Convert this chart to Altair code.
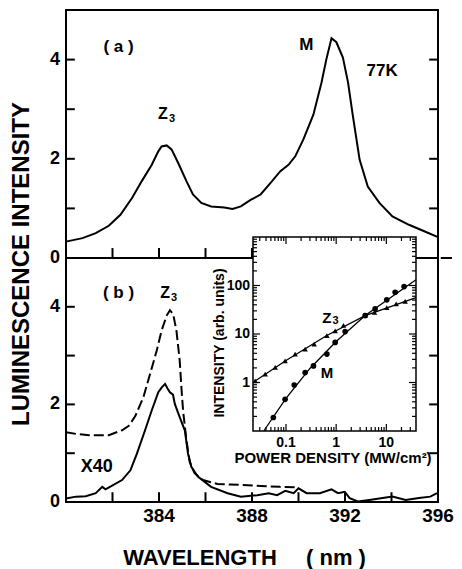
import altair as alt
import pandas as pd

# ---------------- data ----------------
# (a) 77K luminescence spectrum
a_wl = [380.0, 380.71, 381.28, 381.84, 382.34, 382.84, 383.26, 383.69, 383.97, 384.11, 384.33, 384.54,
        384.82, 385.18, 385.46, 385.82, 386.24, 386.81, 387.16, 387.52, 387.94, 388.37, 388.79, 389.22,
        389.57, 389.86, 390.21, 390.64, 390.99, 391.2, 391.42, 391.63, 391.91, 392.13, 392.34, 392.63,
        392.98, 393.48, 394.04, 394.75, 395.46, 396.0]
a_int = [0.33, 0.40, 0.50, 0.65, 0.87, 1.21, 1.55, 1.88, 2.15, 2.25, 2.27, 2.19,
         1.92, 1.55, 1.28, 1.11, 1.04, 1.02, 0.99, 1.04, 1.17, 1.28, 1.51, 1.75,
         1.88, 2.05, 2.39, 2.89, 3.54, 4.01, 4.43, 4.35, 4.04, 3.54, 2.86, 1.98,
         1.44, 1.11, 0.84, 0.67, 0.53, 0.42]

# (b) solid spectrum (x40)
b_wl = [380.0, 380.43, 380.85, 381.28, 381.56, 381.7, 381.85, 382.41, 382.77, 383.05, 383.4, 383.69,
        383.97, 384.12, 384.26, 384.36, 384.47, 384.6, 384.68, 384.89, 385.11, 385.25, 385.39, 385.67,
        386.24, 386.95, 387.52, 388.23, 388.72, 389.08, 389.43, 389.79, 390.0, 390.35, 390.92, 391.42,
        391.7, 391.99, 392.2, 392.55, 393.05, 393.62, 394.04, 394.61, 395.18, 395.67, 395.96]
b_int = [0.07, 0.11, 0.12, 0.18, 0.31, 0.26, 0.30, 0.45, 0.65, 0.99, 1.47, 1.88,
         2.25, 2.35, 2.42, 2.33, 2.25, 2.20, 2.01, 1.74, 1.47, 0.99, 0.72, 0.52,
         0.31, 0.18, 0.11, 0.14, 0.18, 0.14, 0.23, 0.18, 0.28, 0.18, 0.18, 0.26,
         0.18, 0.21, 0.08, 0.01, 0.04, 0.08, 0.11, 0.04, 0.08, 0.11, 0.18]

# (b) dashed spectrum
d_wl = [380.0, 380.5, 381.0, 381.84, 382.41, 382.7, 382.98, 383.33, 383.62, 383.9, 384.11, 384.33,
        384.47, 384.61, 384.75, 384.89, 384.97, 385.04, 385.18, 385.32, 385.53, 385.89, 386.52, 387.52,
        388.37, 389.2, 390.0]
d_int = [1.43, 1.39, 1.37, 1.37, 1.47, 1.56, 1.76, 2.15, 2.63, 3.10, 3.51, 3.82,
         3.93, 3.85, 3.51, 2.90, 2.30, 1.85, 1.27, 0.82, 0.59, 0.45, 0.37, 0.35,
         0.33, 0.31, 0.30]

# inset: intensity vs power density
z3_power = [0.0243, 0.0385, 0.061, 0.096, 0.152, 0.241, 0.365, 0.653, 0.955, 1.4, 3.78, 5.8, 10.2, 15.7, 23.7]
z3_int = [1.08, 1.49, 2.04, 2.8, 3.85, 4.9, 6.2, 9.3, 11.6, 15.0, 24, 28, 35, 41.9, 47]
m_power = [0.056, 0.096, 0.146, 0.241, 0.353, 0.653, 0.955, 1.51, 3.78, 5.98, 10.2, 15, 22.6]
m_int = [0.19, 0.45, 0.89, 1.6, 2.2, 3.85, 6.7, 11.2, 24, 33, 50.6, 72.6, 95]
z3_fit_power = [0.022, 0.1, 0.65, 3.78, 39]
z3_fit_int = [1.0, 2.85, 9.3, 24, 56]
m_fit_power = [0.036, 0.1, 0.3, 1.0, 3.78, 39]
m_fit_int = [0.1, 0.47, 1.95, 7.0, 24, 131]

# axis tick positions and labels
main_y_ticks = [1, 2, 3, 4]
main_x_ticks = [382, 384, 386, 388, 390, 392, 394]
main_y_labels = [0, 2, 4]
main_x_labels = [384, 388, 392, 396]
inset_x_labels = [0.1, 1, 10]
inset_x_label_text = ["0.1", "1", "10"]
inset_y_labels = [1, 10, 100]
inset_y_label_text = ["1", "10", "100"]

FONT = "Liberation Sans"
W, H = 372, 492

xa = alt.Scale(domain=[380, 396], range=[0, W], nice=False, zero=False)
ya = alt.Scale(domain=[0, 5], range=[248, 0], nice=False, zero=False)
yb = alt.Scale(domain=[0, 5], range=[H, 248], nice=False, zero=False)
xi = alt.Scale(type="log", domain=[0.022, 39], range=[187, 350], nice=False)
yi = alt.Scale(type="log", domain=[0.1, 1000], range=[421, 227], nice=False)


def tick_table(xmin, xmax, ymin, xt, yt, dx, dy):
    rows = []
    for v in yt:
        rows.append(dict(x=xmin, x2=xmin + dx, y=v, y2=v))
        rows.append(dict(x=xmax, x2=xmax - dx, y=v, y2=v))
    for v in xt:
        rows.append(dict(x=v, x2=v, y=ymin, y2=ymin + dy))
    return pd.DataFrame(rows)


def text_layer(rows, xs, ys, align="center", baseline="middle", dx=0, dy=0):
    return alt.Chart(pd.DataFrame(rows, columns=["x", "y", "t", "fs"])).mark_text(
        font=FONT, fontWeight="bold", color="black", align=align, baseline=baseline, dx=dx, dy=dy
    ).encode(
        x=alt.X("x:Q", scale=xs, axis=None),
        y=alt.Y("y:Q", scale=ys, axis=None),
        text="t:N", size=alt.Size("fs:Q", scale=None, legend=None),
    )


def spectrum_panel(yscale, lines, texts, with_x_labels, extra_rules=None):
    frame = alt.Chart(pd.DataFrame(dict(x=[380], x2=[396], y=[0], y2=[5]))).mark_rect(
        fill="transparent", stroke="black", strokeWidth=2
    ).encode(
        x=alt.X("x:Q", scale=xa, axis=None), x2="x2:Q",
        y=alt.Y("y:Q", scale=yscale, axis=None), y2="y2:Q",
    )
    tt = tick_table(380, 396, 0, main_x_ticks, main_y_ticks, 0.38, 0.2)
    if extra_rules is not None:
        tt = pd.concat([tt, extra_rules], ignore_index=True)
    ticks = alt.Chart(tt).mark_rule(color="black", strokeWidth=2).encode(
        x=alt.X("x:Q", scale=xa, axis=None), x2="x2:Q",
        y=alt.Y("y:Q", scale=yscale, axis=None), y2="y2:Q",
    )
    layers = [frame, ticks]
    for wl, inten, dash in lines:
        mk = dict(color="black", strokeWidth=2)
        if dash:
            mk["strokeDash"] = [10, 4]
        layers.append(alt.Chart(pd.DataFrame(dict(wl=wl, v=inten))).mark_line(**mk).encode(
            x=alt.X("wl:Q", scale=xa, axis=None),
            y=alt.Y("v:Q", scale=yscale, axis=None),
        ))
    layers.append(text_layer(texts, xa, yscale))
    layers.append(text_layer([(380, v, str(v), 18) for v in main_y_labels], xa, yscale,
                             align="right", dx=-6))
    if with_x_labels:
        layers.append(text_layer([(v, 0, str(v), 19) for v in main_x_labels], xa, yscale,
                                 baseline="top", dy=5))
    return alt.layer(*layers)


texts_a = [(382.26, 4.25, "( a )", 17), (390.34, 4.29, "M", 17), (393.6, 3.77, "77K", 17),
           (384.17, 2.9, "Z", 16), (384.56, 2.8, "3", 11)]
texts_b = [(382.26, 4.29, "( b )", 17), (384.26, 4.29, "Z", 16), (384.65, 4.19, "3", 11),
           (381.32, 0.72, "X40", 18)]

# short stub of the separator line beyond the right frame
sep_stub = pd.DataFrame([dict(x=396.12, x2=396.6, y=0, y2=0)])

panel_a = spectrum_panel(ya, [(a_wl, a_int, False)], texts_a, False, sep_stub)
panel_b = spectrum_panel(yb, [(b_wl, b_int, False), (d_wl, d_int, True)], texts_b, True)

# ---------------- inset ----------------
dec_ticks = [m * 10.0 ** e for e in range(-2, 4) for m in range(1, 10)]
ix_ticks = [v for v in dec_ticks if 0.023 < v < 38]
iy_ticks = [v for v in dec_ticks if 0.1 < v < 1000]
irows = []
for v in iy_ticks:
    k = 1.38 if v in (1, 10, 100) else 1.2
    irows.append(dict(x=0.022, x2=0.022 * k, y=v, y2=v))
    irows.append(dict(x=39, x2=39 / k, y=v, y2=v))
for v in ix_ticks:
    k = 1.4 if abs(v - 0.1) < 1e-9 or v in (1, 10) else 1.21
    irows.append(dict(x=v, x2=v, y=0.1, y2=0.1 * k))
    irows.append(dict(x=v, x2=v, y=1000, y2=1000 / k))

inset_box = alt.Chart(pd.DataFrame(dict(x=[0.022], x2=[39], y=[0.1], y2=[1000]))).mark_rect(
    fill="white", stroke="black", strokeWidth=1.5
).encode(
    x=alt.X("x:Q", scale=xi, axis=None), x2="x2:Q",
    y=alt.Y("y:Q", scale=yi, axis=None), y2="y2:Q",
)
inset_ticks = alt.Chart(pd.DataFrame(irows)).mark_rule(color="black", strokeWidth=1.2).encode(
    x=alt.X("x:Q", scale=xi, axis=None), x2="x2:Q",
    y=alt.Y("y:Q", scale=yi, axis=None), y2="y2:Q",
)


def inset_line(p, v):
    return alt.Chart(pd.DataFrame(dict(p=p, v=v))).mark_line(color="black", strokeWidth=1.3).encode(
        x=alt.X("p:Q", scale=xi, axis=None), y=alt.Y("v:Q", scale=yi, axis=None))


def inset_pts(p, v, shape, size):
    return alt.Chart(pd.DataFrame(dict(p=p, v=v))).mark_point(
        shape=shape, filled=True, color="black", size=size, opacity=1
    ).encode(x=alt.X("p:Q", scale=xi, axis=None), y=alt.Y("v:Q", scale=yi, axis=None))


inset = alt.layer(
    inset_box, inset_ticks,
    inset_line(z3_fit_power, z3_fit_int), inset_line(m_fit_power, m_fit_int),
    inset_pts(z3_power, z3_int, "triangle-up", 30), inset_pts(m_power, m_int, "circle", 32),
    text_layer([(0.653, 21.7, "Z", 15), (0.97, 18.3, "3", 11), (0.653, 1.54, "M", 15)], xi, yi),
    text_layer([(v, 0.1, t, 14) for v, t in zip(inset_x_labels, inset_x_label_text)], xi, yi,
               baseline="top", dy=5),
    text_layer([(0.022, v, t, 14) for v, t in zip(inset_y_labels, inset_y_label_text)], xi, yi,
               align="right", dx=-3),
)

# ---------------- titles ----------------
titles = alt.Chart(pd.DataFrame([
    (-44, 254, "LUMINESCENCE INTENSITY", 24, 270),
    (134, 548, "WAVELENGTH", 22, 0),
    (270, 548, "( nm )", 22, 0),
    (154, 333, "INTENSITY (arb. units)", 14, 270),
    (267, 448, "POWER DENSITY (MW/cm\u00b2)", 15, 0),
], columns=["px", "py", "t", "fs", "ang"])).mark_text(
    font=FONT, fontWeight="bold", color="black", align="center", baseline="middle"
).encode(
    x=alt.X("px:Q", scale=None), y=alt.Y("py:Q", scale=None), text="t:N",
    size=alt.Size("fs:Q", scale=None, legend=None), angle=alt.Angle("ang:Q", scale=None),
)

chart = alt.layer(panel_a, panel_b, inset, titles).resolve_scale(
    x="independent", y="independent"
).properties(
    width=W, height=H,
    padding={"left": 58, "top": 2, "right": 16, "bottom": 72},
    autosize=alt.AutoSizeParams(type="none"),
).configure_view(stroke=None)

chart.save("out.html", embed_options={"renderer": "svg", "actions": False})
